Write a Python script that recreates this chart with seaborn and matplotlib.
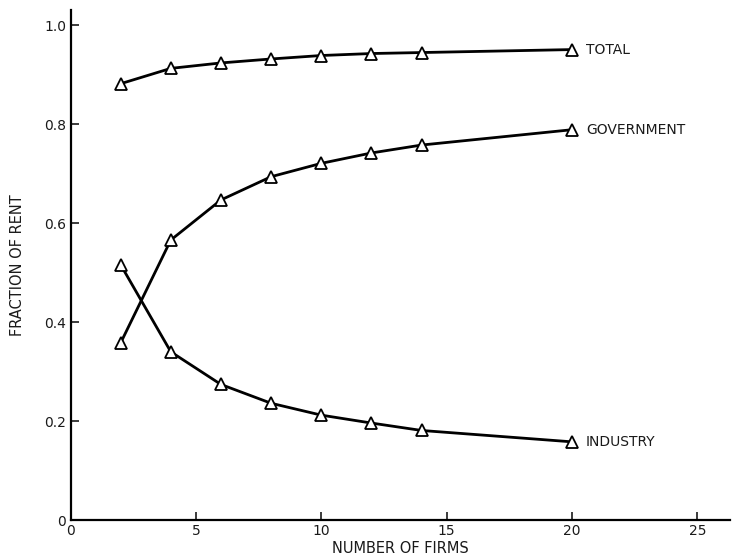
import matplotlib
matplotlib.use("Agg")
import matplotlib.pyplot as plt
import seaborn as sns
import pandas as pd

firms = [2, 4, 6, 8, 10, 12, 14, 20]
total = [0.882, 0.913, 0.924, 0.932, 0.939, 0.943, 0.945, 0.951]
government = [0.358, 0.566, 0.647, 0.694, 0.721, 0.742, 0.758, 0.789]
industry = [0.516, 0.340, 0.274, 0.236, 0.212, 0.196, 0.181, 0.158]
series_names = ["TOTAL", "GOVERNMENT", "INDUSTRY"]
x_ticks = [0, 5, 10, 15, 20, 25]
y_ticks = [0, 0.2, 0.4, 0.6, 0.8, 1.0]
y_tick_labels = ["0", "0.2", "0.4", "0.6", "0.8", "1.0"]

sns.set_style("ticks")
plt.rcParams["font.family"] = ["DejaVu Sans"]

fig = plt.figure(figsize=(7.34, 5.6), dpi=100)
ax = fig.add_axes([70.5 / 734, 40 / 560, (730 - 70.5) / 734, (520 - 10) / 560])

for name, vals in zip(series_names, [total, government, industry]):
    df = pd.DataFrame({"x": firms, "y": vals})
    sns.lineplot(data=df, x="x", y="y", ax=ax, color="black", linewidth=2.0,
                 marker="^", markersize=9, markerfacecolor="white",
                 markeredgecolor="black", markeredgewidth=1.3)
    ax.text(firms[-1] + 0.55, vals[-1], name, ha="left", va="center",
            fontsize=10, color="#1a1a1a")

ax.set_xlim(0, 26.3)
ax.set_ylim(0, 1.031)
ax.set_xticks(x_ticks)
ax.set_yticks(y_ticks)
ax.set_yticklabels(y_tick_labels)
ax.tick_params(direction="in", length=6, width=1.2, labelsize=10, colors="#1a1a1a", pad=3)
ax.set_xlabel("NUMBER OF FIRMS", fontsize=10.5, color="#1a1a1a", labelpad=2)
ax.set_ylabel("FRACTION OF RENT", fontsize=10.5, color="#1a1a1a", labelpad=14)
for s in ["top", "right"]:
    ax.spines[s].set_visible(False)
for s in ["left", "bottom"]:
    ax.spines[s].set_linewidth(1.6)
    ax.spines[s].set_color("black")

fig.savefig("out.png", dpi=100)
